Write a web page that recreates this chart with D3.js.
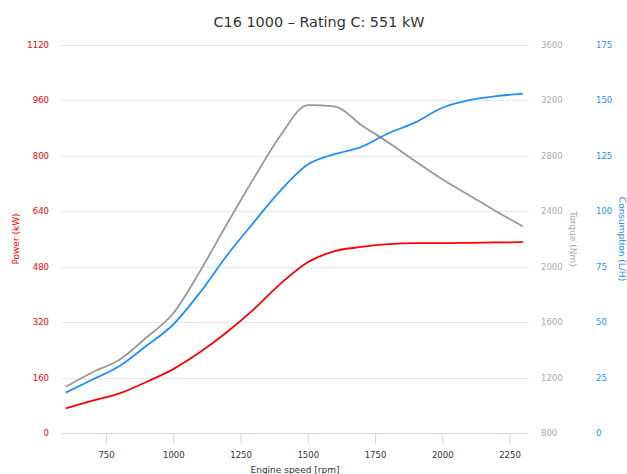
<!DOCTYPE html>
<head>
<meta charset="utf-8">
<style>
  body { margin: 0; background: #fff; }
  svg text { font-family: "DejaVu Sans", sans-serif; }
</style>
</head>
<body>
<div id="chart"></div>
<script src="https://d3js.org/d3.v7.min.js"></script>
<script>
// engine speed samples (rpm)
var rpm = [600, 700, 800, 900, 1000, 1100, 1200, 1300, 1400, 1500, 1600, 1700, 1800, 1900, 2000, 2100, 2200, 2300];
// power (kW)
var power = [72, 94, 115, 148, 185, 234, 292, 358, 432, 493, 525, 537, 545, 548, 548, 549, 550, 551];
// torque (Nm)
var torque = [1135, 1240, 1330, 1490, 1665, 1970, 2310, 2640, 2950, 3165, 3155, 3020, 2895, 2760, 2630, 2515, 2400, 2290];
// consumption (L/H)
var consumption = [18.3, 24.2, 30.3, 39.4, 49.0, 63.5, 80.2, 95.1, 109.5, 121.0, 125.7, 129.0, 135.1, 140.0, 146.6, 150.0, 151.8, 153.0];

var xTicks = [750, 1000, 1250, 1500, 1750, 2000, 2250];
var powerTicks = [0, 160, 320, 480, 640, 800, 960, 1120];
var torqueTicks = [800, 1200, 1600, 2000, 2400, 2800, 3200, 3600];
var consTicks = [0, 25, 50, 75, 100, 125, 150, 175];

var W = 627, H = 474;
// plot box (note: "top" is a reserved window prop, so keep these in an object)
var plot = {left: 61.4, right: 528.6, top: 44.7, bottom: 433.3};

var svg = d3.select("#chart").append("svg")
    .attr("width", W)
    .attr("height", H);

var x = d3.scaleLinear().domain([584, 2321]).range([plot.left, plot.right]);
var yP = d3.scaleLinear().domain([0, 1120]).range([plot.bottom, plot.top]);
var yT = d3.scaleLinear().domain([800, 3600]).range([plot.bottom, plot.top]);
var yC = d3.scaleLinear().domain([0, 175]).range([plot.bottom, plot.top]);
var midY = (plot.top + plot.bottom) / 2;

// title
svg.append("text")
    .attr("x", 319).attr("y", 27)
    .attr("text-anchor", "middle")
    .style("font-size", "14.4px")
    .style("fill", "#333")
    .text("C16 1000 \u2013 Rating C: 551 kW");

// grid
svg.append("g").selectAll("line")
    .data(powerTicks)
  .enter().append("line")
    .attr("x1", plot.left).attr("x2", plot.right)
    .attr("y1", function(d) { return Math.round(yP(d)) + 0.5; })
    .attr("y2", function(d) { return Math.round(yP(d)) + 0.5; })
    .style("stroke", "#e6e6e6");

// x axis
var xAxis = svg.append("g")
    .attr("transform", "translate(0," + (Math.round(plot.bottom) + 0.5) + ")")
    .call(d3.axisBottom(x).tickValues(xTicks).tickSize(10).tickPadding(8).tickFormat(d3.format("d")));
xAxis.select(".domain").style("stroke", "#ccd6eb").attr("d", "M" + plot.left + ",0H" + plot.right);
xAxis.selectAll(".tick line").style("stroke", "#ccd6eb");
xAxis.selectAll(".tick text").style("font-size", "8.5px").style("fill", "#333").style("font-family", "DejaVu Sans");

// sits on the bottom edge, as in the original
svg.append("text")
    .attr("x", (plot.left + plot.right) / 2).attr("y", 473)
    .attr("text-anchor", "middle")
    .style("font-size", "9px")
    .style("fill", "#333")
    .text("Engine speed [rpm]");

// left axis (power)
svg.append("g").selectAll("text")
    .data(powerTicks)
  .enter().append("text")
    .attr("x", 49).attr("y", function(d) { return yP(d); })
    .attr("dy", "0.35em")
    .attr("text-anchor", "end")
    .style("font-size", "8.5px")
    .style("fill", "#ff0000")
    .text(function(d) { return d; });
svg.append("text")
    .attr("transform", "translate(16," + midY + ")rotate(-90)")
    .attr("text-anchor", "middle")
    .attr("dy", "0.35em")
    .style("font-size", "9px")
    .style("fill", "#ff0000")
    .text("Power (kW)");

// right axis (torque)
svg.append("g").selectAll("text")
    .data(torqueTicks)
  .enter().append("text")
    .attr("x", 541).attr("y", function(d) { return yT(d); })
    .attr("dy", "0.35em")
    .style("font-size", "8.5px")
    .style("fill", "#aaaaaa")
    .text(function(d) { return d; });
svg.append("text")
    .attr("transform", "translate(573," + midY + ")rotate(90)")
    .attr("text-anchor", "middle")
    .attr("dy", "0.35em")
    .style("font-size", "9px")
    .style("fill", "#aaaaaa")
    .text("Torque (Nm)");

// right axis (consumption)
svg.append("g").selectAll("text")
    .data(consTicks)
  .enter().append("text")
    .attr("x", 596).attr("y", function(d) { return yC(d); })
    .attr("dy", "0.35em")
    .style("font-size", "8.5px")
    .style("fill", "#1e90ff")
    .text(function(d) { return d; });
svg.append("text")
    .attr("transform", "translate(622," + midY + ")rotate(90)")
    .attr("text-anchor", "middle")
    .attr("dy", "0.35em")
    .style("font-size", "9px")
    .style("fill", "#1e90ff")
    .text("Consumption (L/H)");

// lines
function drawLine(values, y, color) {
  var line = d3.line()
      .x(function(d, i) { return x(rpm[i]); })
      .y(function(d) { return y(d); })
      .curve(d3.curveMonotoneX);
  svg.append("path")
      .datum(values)
      .attr("d", line)
      .style("fill", "none")
      .style("stroke", color)
      .style("stroke-width", 1.8);
}
drawLine(torque, yT, "#999999");
drawLine(consumption, yC, "#1e90ff");
drawLine(power, yP, "#ff0000");
</script>
</body>
</html>
